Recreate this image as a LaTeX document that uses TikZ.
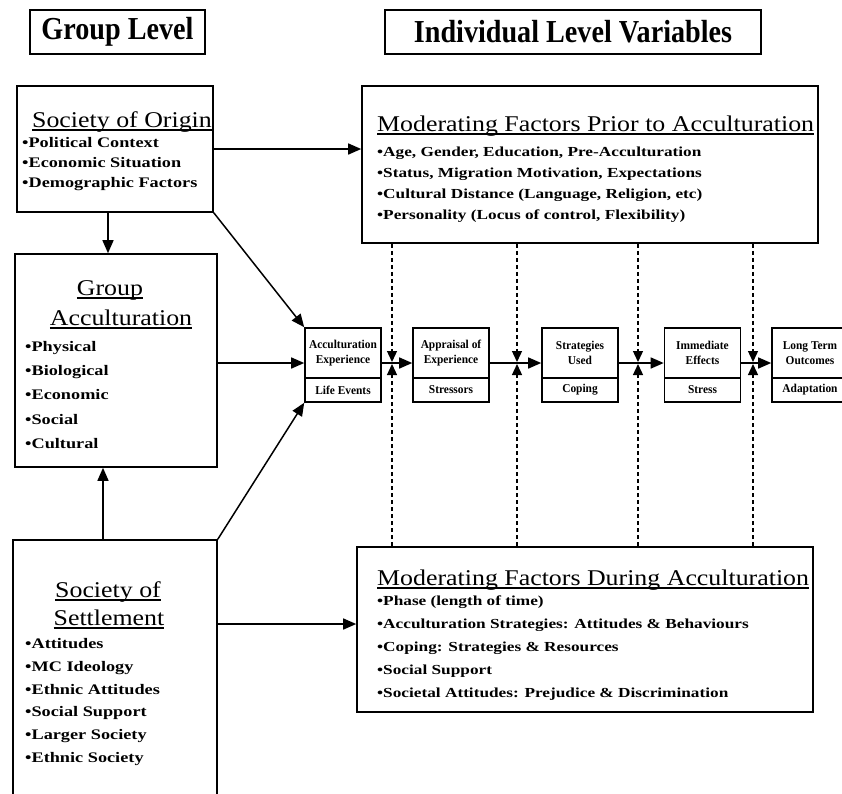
\documentclass[tikz,border=0pt]{standalone}
\usepackage{fontspec}
\setmainfont{Liberation Serif}
\usetikzlibrary{arrows.meta}
\newfontfamily\hdrfam[FakeStretch=0.88]{Liberation Serif}
\newfontfamily\ttlfam[FakeStretch=1.15]{Liberation Serif}
\newfontfamily\itmfam[FakeStretch=1.25]{Liberation Serif}
\newfontfamily\chnfam[FakeStretch=0.95]{Liberation Serif}
\newcommand\hdrf{\hdrfam\bfseries\fontsize{32}{32}\selectfont}
\newcommand\ttlf{\ttlfam\fontsize{22.5}{26}\selectfont}
\newcommand\itlf{\itmfam\bfseries\fontsize{14.6}{17}\selectfont}
\newcommand\itrf{\itmfam\bfseries\fontsize{13.8}{17}\selectfont}
\newcommand\chf{\chnfam\bfseries\fontsize{12}{15}\selectfont}
\newcommand\ulx[1]{\setbox0\hbox{#1}\rlap{\rule[-3.5pt]{\wd0}{1.5pt}}\box0}
\tikzset{
  box/.style={draw, line width=1.6pt, inner sep=0pt},
  arr/.style={line width=1.5pt, -{Triangle[length=13pt,width=11pt]}},
  dsh/.style={line width=1.3pt, dash pattern=on 4pt off 3pt, -{Triangle[length=11pt,width=10pt]}},
  txt/.style={inner sep=0pt, anchor=base west},
  ttl/.style={inner sep=0pt, anchor=base},
  cbox/.style={draw, line width=1.6pt, inner sep=0pt, minimum width=76pt, align=center, font=\chf},
}
\begin{document}
\begin{tikzpicture}[x=1pt,y=-1pt]
\useasboundingbox (0,0) rectangle (842,793);
\fill[white] (0,0) rectangle (842,793);

% headers
\node[box, minimum width=175, minimum height=44] (gl) at (117.5,32) {\hdrf Group Level};
\node[box, minimum width=376, minimum height=44] (ilv) at (573,32) {\hdrf Individual Level Variables};

% left boxes
\node[box, minimum width=196, minimum height=126] (origin) at (115,149) {};
\node[ttl] (ot) at (122,127) {\ttlf\ulx{Society of Origin}};
\node[txt] (o1) at (22,147) {\itlf •Political Context};
\node[txt] (o2) at (22,167) {\itlf •Economic Situation};
\node[txt] (o3) at (22,187) {\itlf •Demographic Factors};

\node[box, minimum width=202, minimum height=213] (gacc) at (116,360.5) {};
\node[ttl] (gt1) at (110,295) {\ttlf\ulx{Group}};
\node[ttl] (gt2) at (121,325) {\ttlf\ulx{Acculturation}};
\node[txt] (g1) at (25,351) {\itlf •Physical};
\node[txt] (g2) at (25,375) {\itlf •Biological};
\node[txt] (g3) at (25,399) {\itlf •Economic};
\node[txt] (g4) at (25,424) {\itlf •Social};
\node[txt] (g5) at (25,448) {\itlf •Cultural};

\node[box, minimum width=204, minimum height=280] (settle) at (115,680) {};
\node[ttl] (st1) at (108,597) {\ttlf\ulx{Society of}};
\node[ttl] (st2) at (109,625) {\ttlf\ulx{Settlement}};
\node[txt] (s1) at (25,648) {\itlf •Attitudes};
\node[txt] (s2) at (25,671) {\itlf •MC Ideology};
\node[txt] (s3) at (25,694) {\itlf •Ethnic Attitudes};
\node[txt] (s4) at (25,716) {\itlf •Social Support};
\node[txt] (s5) at (25,739) {\itlf •Larger Society};
\node[txt] (s6) at (25,762) {\itlf •Ethnic Society};

% right boxes
\node[box, minimum width=456, minimum height=157] (prior) at (590,164.5) {};
\node[txt] (pt) at (377,131) {\ttlf\ulx{Moderating Factors Prior to Acculturation}};
\node[txt] (p1) at (377,156) {\itrf •Age, Gender, Education, Pre-Acculturation};
\node[txt] (p2) at (377,177) {\itrf •Status, Migration Motivation, Expectations};
\node[txt] (p3) at (377,198) {\itrf •Cultural Distance (Language, Religion, etc)};
\node[txt] (p4) at (377,219) {\itrf •Personality (Locus of control, Flexibility)};

\node[box, minimum width=456, minimum height=165] (during) at (585,629.5) {};
\node[txt] (dt) at (377,585) {\ttlf\ulx{Moderating Factors During Acculturation}};
\node[txt] (d1) at (377,605) {\itrf •Phase (length of time)};
\node[txt] (d2) at (377,628) {\itrf •Acculturation Strategies: Attitudes \& Behaviours};
\node[txt] (d3) at (377,651) {\itrf •Coping: Strategies \& Resources};
\node[txt] (d4) at (377,674) {\itrf •Social Support};
\node[txt] (d5) at (377,697) {\itrf •Societal Attitudes: Prejudice \& Discrimination};

% chain boxes
\node[cbox, minimum height=50] (c1) at (343,353) {Acculturation\\Experience};
\node[cbox, minimum height=24] (c1b) at (343,390) {Life Events};
\node[cbox, minimum height=50] (c2) at (451,353) {Appraisal of\\Experience};
\node[cbox, minimum height=24] (c2b) at (451,390) {Stressors};
\node[cbox, minimum height=50] (c3) at (580,353) {Strategies\\Used};
\node[cbox, minimum height=24] (c3b) at (580,390) {Coping};
\node[cbox, minimum height=50] (c4) at (702.5,353) {Immediate\\Effects};
\node[cbox, minimum height=24] (c4b) at (702.5,390) {Stress};
\node[cbox, minimum height=50] (c5) at (810,353) {Long Term\\Outcomes};
\node[cbox, minimum height=24] (c5b) at (810,390) {Adaptation};

\coordinate (ay) at (0,363);
\coordinate (sy) at (0,624);
\coordinate (xo) at (108,0);
\coordinate (xs) at (103,0);
\coordinate (j1) at (392,363);
\coordinate (j2) at (517,363);
\coordinate (j3) at (638,363);
\coordinate (j4) at (753,363);

% connectors
\draw[arr] (origin.east) -- (prior.west |- origin.east);
\draw[arr] (origin.south -| xo) -- (gacc.north -| xo);
\draw[arr] (settle.north -| xs) -- (gacc.south -| xs);
\draw[arr] (origin.south east) -- (c1.north west);
\draw[arr] (gacc.east |- ay) -- (c1.west |- ay);
\draw[arr] (settle.north east) -- (c1b.south west);
\draw[arr] (settle.east |- sy) -- (during.west |- sy);

\draw[arr] (c1.east |- ay) -- (c2.west |- ay);
\draw[arr] (c2.east |- ay) -- (c3.west |- ay);
\draw[arr] (c3.east |- ay) -- (c4.west |- ay);
\draw[arr] (c4.east |- ay) -- (c5.west |- ay);

\foreach \j in {j1,j2,j3,j4}{
  \draw[dsh] (prior.south -| \j) -- ([yshift=1pt]\j);
  \draw[dsh] (during.north -| \j) -- ([yshift=-1pt]\j);
}
\end{tikzpicture}
\end{document}
